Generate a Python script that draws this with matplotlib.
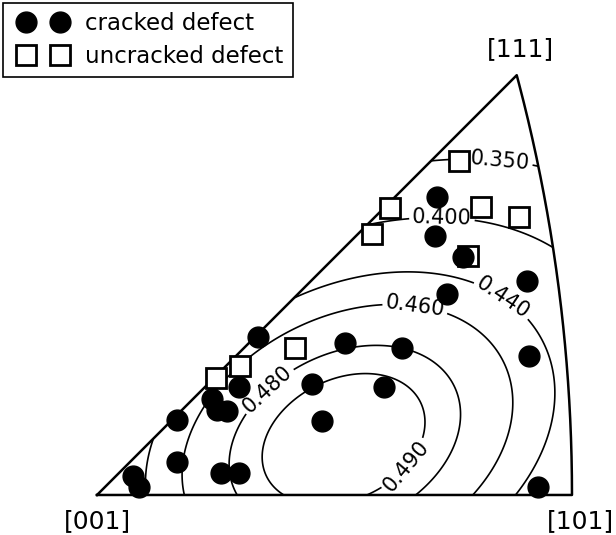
import numpy as np
import matplotlib
matplotlib.use('Agg')
import matplotlib.pyplot as plt
from matplotlib.patches import PathPatch
from matplotlib.path import Path
from matplotlib.lines import Line2D
from matplotlib.legend_handler import HandlerLine2D

# stereographic coordinates (x, y) of the defects
cracked_x = [0.2965, 0.2947, 0.3192, 0.3750, 0.3052, 0.3767, 0.2163, 0.2660,
             0.1875, 0.2503, 0.1962, 0.1404, 0.1238, 0.1003, 0.1046, 0.1134,
             0.0698, 0.0698, 0.0314, 0.0366, 0.1081, 0.1238, 0.3845]
cracked_y = [0.2599, 0.2258, 0.2075, 0.1866, 0.1753, 0.1212, 0.1325, 0.1282,
             0.0968, 0.0942, 0.0645, 0.1378, 0.0942, 0.0837, 0.0741, 0.0732,
             0.0654, 0.0288, 0.0166, 0.0070, 0.0192, 0.0192, 0.0070]

uncracked_x = [0.3157, 0.2555, 0.2398, 0.3348, 0.3680, 0.3235, 0.1727, 0.1247, 0.1038]
uncracked_y = [0.2912, 0.2503, 0.2276, 0.2511, 0.2424, 0.2084, 0.1282, 0.1125, 0.1020]

levels = [0.35, 0.40, 0.44, 0.46, 0.48, 0.49]
corner_labels = ['[001]', '[101]', '[111]']


def schmid_max(x, y):
    # inverse stereographic projection -> loading direction
    r2 = x**2 + y**2
    d = np.stack([2*x, 2*y, 1 - r2]) / (1 + r2)
    best = np.zeros_like(x)
    normals = [(1, 1, 1), (-1, 1, 1), (1, -1, 1), (1, 1, -1)]
    dirs = [(1, 1, 0), (1, -1, 0), (1, 0, 1), (1, 0, -1), (0, 1, 1), (0, 1, -1)]
    for n in normals:
        n = np.array(n) / np.sqrt(3)
        for s in dirs:
            s = np.array(s) / np.sqrt(2)
            if abs(n @ s) > 1e-9:
                continue
            cn = np.tensordot(n, d, axes=1)
            cs = np.tensordot(s, d, axes=1)
            best = np.maximum(best, np.abs(cn * cs))
    return best


fig = plt.figure(figsize=(6.16, 5.35), dpi=100)
ax = fig.add_axes([0, 0, 1, 1])
ax.set_xlim(-0.0846, 0.4526)
ax.set_ylim(-0.0349, 0.4316)
ax.axis('off')

# triangle boundary
t = np.linspace(0, 1, 200)
arc_x = 1 / (np.sqrt(2 + t**2) + 1)
arc_y = t / (np.sqrt(2 + t**2) + 1)
bx = np.concatenate([[0], arc_x, [0]])
by = np.concatenate([[0], arc_y, [0]])
tri = Path(np.column_stack([bx, by]))
ax.plot(bx, by, color='black', lw=1.8, zorder=3)

gx, gy = np.meshgrid(np.linspace(0, 0.42, 500), np.linspace(0, 0.38, 500))
m = schmid_max(gx, gy)
cs = ax.contour(gx, gy, m, levels=levels, colors='black', linewidths=1.2)
patch = PathPatch(tri, transform=ax.transData, facecolor='none', edgecolor='none')
ax.add_patch(patch)
cs.set_clip_path(patch)
ax.clabel(cs, fmt='%.3f', fontsize=15, inline=True, inline_spacing=3,
          manual=[(0.3514, 0.2904), (0.3008, 0.2398), (0.3558, 0.1744),
                  (0.2773, 0.1631), (0.1509, 0.0898), (0.2686, 0.0262)])

ax.plot(uncracked_x, uncracked_y, 's', ms=14, mfc='white', mec='black', mew=2, zorder=4)
ax.plot(cracked_x, cracked_y, 'o', ms=15, color='black', zorder=5)

ax.text(0, -0.0227, corner_labels[0], ha='center', va='center', fontsize=18)
ax.text(0.422, -0.0227, corner_labels[1], ha='center', va='center', fontsize=18)
ax.text(0.3689, 0.389, corner_labels[2], ha='center', va='center', fontsize=18)

handles = [Line2D([], [], ls='none', marker='o', ms=15, color='black'),
           Line2D([], [], ls='none', marker='s', ms=14, mfc='white', mec='black', mew=2)]
leg = ax.legend(handles, ['cracked defect', 'uncracked defect'], loc='upper left',
                bbox_to_anchor=(0.005, 0.994), borderaxespad=0, numpoints=2,
                fontsize=16.5, handlelength=2.69, handletextpad=0.5,
                labelspacing=0.42, borderpad=0.4,
                handler_map={Line2D: HandlerLine2D(marker_pad=0.6)},
                fancybox=False, framealpha=1, edgecolor='black')
leg.get_frame().set_linewidth(1.2)

fig.savefig('out.png', dpi=100)
